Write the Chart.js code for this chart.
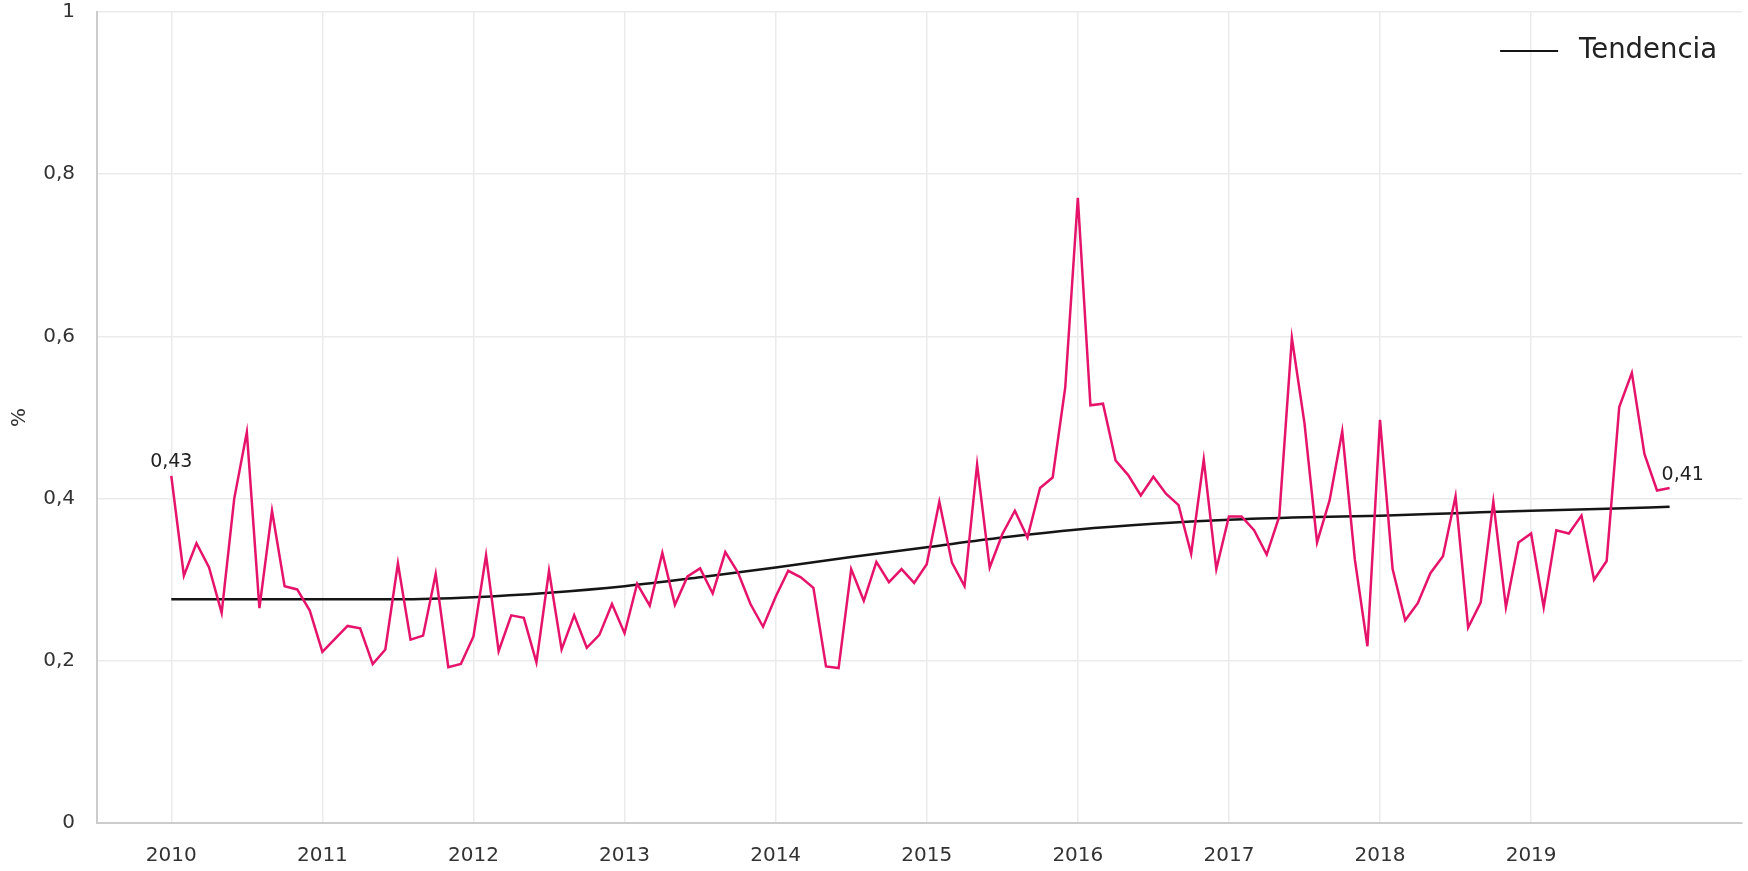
<!DOCTYPE html>
<html>
<head>
<meta charset="utf-8">
<script src="https://cdn.jsdelivr.net/npm/chart.js@4/dist/chart.umd.min.js"></script>
<style>
  html, body { margin: 0; padding: 0; background: #fff; overflow: hidden; }
  #c { display: block; }
</style>
</head>
<body>
<canvas id="c" width="1748" height="871" style="width:1748px;height:871px"></canvas>
<script>
// ---- Data (monthly, Jan 2010 – Dec 2019) ----
const years = ['2010','2011','2012','2013','2014','2015','2016','2017','2018','2019'];
const y2010 = [0.428, 0.305, 0.345, 0.315, 0.259, 0.400, 0.482, 0.265, 0.385, 0.292, 0.288, 0.262];
const y2011 = [0.211, 0.227, 0.243, 0.240, 0.196, 0.214, 0.320, 0.226, 0.231, 0.307, 0.192, 0.196];
const y2012 = [0.230, 0.330, 0.212, 0.256, 0.253, 0.198, 0.311, 0.214, 0.256, 0.216, 0.232, 0.270];
const y2013 = [0.234, 0.295, 0.268, 0.333, 0.269, 0.304, 0.314, 0.283, 0.334, 0.309, 0.270, 0.242];
const y2014 = [0.279, 0.311, 0.303, 0.290, 0.193, 0.191, 0.313, 0.274, 0.322, 0.297, 0.313, 0.296];
const y2015 = [0.319, 0.396, 0.321, 0.292, 0.442, 0.315, 0.356, 0.385, 0.352, 0.413, 0.426, 0.537];
const y2016 = [0.771, 0.515, 0.517, 0.447, 0.429, 0.404, 0.427, 0.406, 0.392, 0.332, 0.448, 0.313];
const y2017 = [0.378, 0.378, 0.361, 0.331, 0.378, 0.598, 0.493, 0.346, 0.398, 0.483, 0.325, 0.218];
const y2018 = [0.497, 0.313, 0.250, 0.271, 0.308, 0.329, 0.403, 0.241, 0.272, 0.396, 0.266, 0.346];
const y2019 = [0.357, 0.266, 0.361, 0.357, 0.379, 0.300, 0.323, 0.513, 0.555, 0.455, 0.410, 0.413];
const serie = [].concat(y2010, y2011, y2012, y2013, y2014, y2015, y2016, y2017, y2018, y2019);

// Trend line read at half-year intervals (month index from Jan 2010)
const trendMonths = [0, 6, 12, 18, 24, 30, 36, 42, 48, 54, 60, 66, 72, 78, 84, 90, 96, 102, 108, 114, 119];
const trendValues = [0.276, 0.276, 0.276, 0.276, 0.2785, 0.284, 0.292, 0.303, 0.315, 0.328, 0.340, 0.352, 0.362, 0.369, 0.374, 0.377, 0.379, 0.382, 0.385, 0.3875, 0.390];

const yTicks = [0, 0.2, 0.4, 0.6, 0.8, 1];
const legendLabel = 'Tendencia';
const yTitle = '%';

const fmt = v => (Math.round(v * 100) / 100).toString().replace('.', ',');
const FONT = "'DejaVu Sans', sans-serif";

const labelPlugin = {
  id: 'endLabels',
  afterDatasetsDraw(chart) {
    const meta = chart.getDatasetMeta(0);
    const pts = meta.data;
    const ctx = chart.ctx;
    ctx.save();
    ctx.font = "19px " + FONT;
    ctx.fillStyle = '#222';
    ctx.textBaseline = 'bottom';
    const first = pts[0], last = pts[pts.length - 1];
    ctx.textAlign = 'center';
    ctx.fillText(fmt(serie[0]), first.x, first.y - 4);
    ctx.textAlign = 'left';
    ctx.fillText(fmt(serie[serie.length - 1]), last.x - 8, last.y - 3);
    ctx.restore();
  }
};

// Legend drawn in the top-right corner of the plot area
const legendPlugin = {
  id: 'trendLegend',
  afterDraw(chart) {
    const ds = chart.data.datasets[1];
    const area = chart.chartArea;
    const ctx = chart.ctx;
    ctx.save();
    ctx.font = "27.5px " + FONT;
    const tw = ctx.measureText(ds.label).width;
    const textRight = area.right - 25;
    const textX = textRight - tw;
    const cy = area.top + 39;
    ctx.fillStyle = ds.borderColor;
    ctx.fillRect(textX - 79, cy - 1, 58, 2);
    ctx.fillStyle = '#222';
    ctx.textAlign = 'left';
    ctx.textBaseline = 'middle';
    ctx.fillText(ds.label, textX, cy);
    ctx.restore();
  }
};

new Chart(document.getElementById('c'), {
  type: 'line',
  data: {
    datasets: [
      {
        label: 'Serie',
        data: serie.map((v, i) => ({ x: i, y: v })),
        borderColor: '#e6136b',
        borderWidth: 2.5,
        pointRadius: 0,
        tension: 0,
        fill: false
      },
      {
        label: legendLabel,
        data: trendMonths.map((m, i) => ({ x: m, y: trendValues[i] })),
        borderColor: '#151515',
        borderWidth: 2.5,
        pointRadius: 0,
        cubicInterpolationMode: 'monotone',
        fill: false
      }
    ]
  },
  options: {
    responsive: false,
    maintainAspectRatio: false,
    animation: false,
    devicePixelRatio: 1,
    layout: { padding: { top: 12, right: 6, bottom: 0, left: 0 } },
    plugins: {
      tooltip: { enabled: false },
      legend: { display: false }
    },
    scales: {
      x: {
        type: 'linear',
        min: -5.9,
        max: 124.75,
        afterBuildTicks: s => { s.ticks = years.map((y, i) => ({ value: i * 12 })); },
        afterFit: s => { s.height = 48; },
        ticks: {
          callback: v => String(2010 + Math.round(v / 12)),
          font: { family: FONT, size: 20 },
          color: '#333',
          padding: 21,
          maxRotation: 0,
          autoSkip: false
        },
        grid: { color: '#ebebeb', lineWidth: 1.5, drawTicks: false },
        border: { display: true, color: '#cccccc', width: 2 }
      },
      y: {
        min: 0,
        max: 1,
        afterBuildTicks: s => { s.ticks = yTicks.map(v => ({ value: v })); },
        afterFit: s => { s.width = 97; s.paddingTop = 12; s.paddingBottom = 12; },
        ticks: {
          callback: v => fmt(v),
          font: { family: FONT, size: 20 },
          color: '#333',
          padding: 22,
          autoSkip: false
        },
        title: {
          display: true,
          text: yTitle,
          font: { family: FONT, size: 20 },
          color: '#333',
          padding: { top: 8, bottom: 0 }
        },
        grid: { color: '#ebebeb', lineWidth: 1.5, drawTicks: false },
        border: { display: true, color: '#cccccc', width: 2 }
      }
    }
  },
  plugins: [labelPlugin, legendPlugin]
});
</script>
</body>
</html>
